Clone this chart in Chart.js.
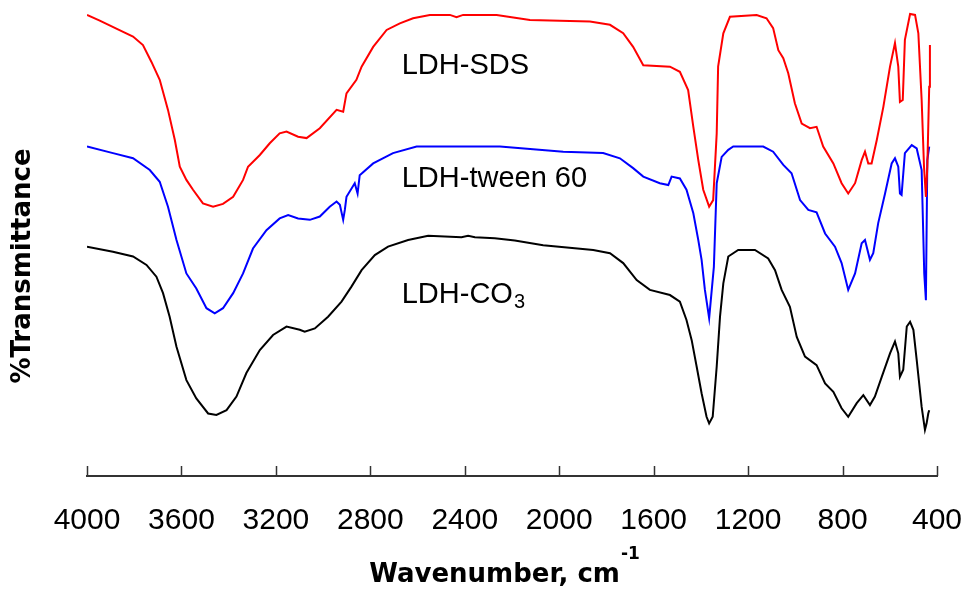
<!DOCTYPE html>
<html>
<head>
<meta charset="utf-8">
<title>FTIR spectra</title>
<script src="https://cdn.jsdelivr.net/npm/chart.js@4.4.1/dist/chart.umd.min.js"></script>
<style>
  html, body { margin: 0; padding: 0; background: #fff; }
  #wrap { width: 965px; height: 592px; position: relative; }
</style>
</head>
<body>
<div id="wrap"><canvas id="myChart" width="965" height="592"></canvas></div>
<script>
'use strict';

// x axis tick values (cm-1)
const tickValues = [4000, 3600, 3200, 2800, 2400, 2000, 1600, 1200, 800, 400];

// series names
const seriesNames = ['LDH-SDS', 'LDH-tween 60', 'LDH-CO3'];

// LDH-SDS (red) - wavenumber / transmittance (offset, arbitrary)
const sdsWave = [4000, 3946, 3847, 3805, 3763, 3727, 3692, 3657, 3628, 3607, 3579, 3551, 3509, 3466, 3424, 3381, 3339, 3318, 3268, 3226, 3184, 3155, 3106, 3070, 3014, 2943, 2915, 2901, 2859, 2837, 2788, 2731, 2675, 2619, 2548, 2463, 2435, 2407, 2265, 2124, 1870, 1785, 1729, 1687, 1644, 1531, 1489, 1454, 1432, 1411, 1390, 1365, 1348, 1333, 1327, 1305, 1277, 1164, 1122, 1094, 1072, 1051, 1030, 1002, 973, 938, 910, 882, 839, 804, 776, 747, 719, 705, 691, 677, 655, 627, 599, 578, 564, 557, 545, 536, 514, 493, 479, 465, 455, 447, 441, 433, 430];
const sdsT = [98.1, 96.9, 94.5, 93.5, 91.7, 88.1, 84.3, 77.9, 71.5, 65.8, 63.0, 60.9, 58.0, 57.3, 57.9, 59.4, 63.0, 65.8, 68.3, 70.8, 72.9, 73.3, 72.2, 71.9, 74.0, 77.9, 77.5, 81.4, 84.3, 87.1, 91.3, 94.9, 96.3, 97.4, 98.1, 98.1, 97.6, 98.1, 98.1, 97.0, 96.7, 96.0, 94.2, 91.3, 87.4, 87.1, 86.0, 82.1, 74.3, 67.2, 60.9, 57.3, 58.7, 72.9, 87.1, 94.2, 97.7, 98.1, 97.4, 95.3, 90.6, 88.9, 85.7, 79.3, 75.0, 74.0, 74.3, 70.1, 66.5, 62.3, 60.1, 62.3, 67.2, 69.0, 66.5, 66.5, 71.5, 78.6, 87.1, 92.1, 87.1, 79.6, 80.0, 92.8, 98.3, 98.1, 94.2, 80.0, 65.8, 59.4, 65.8, 82.8, 91.7];

// LDH-tween 60 (blue)
const tweenWave = [4000, 3890, 3805, 3734, 3692, 3657, 3621, 3579, 3537, 3494, 3459, 3424, 3381, 3339, 3297, 3240, 3184, 3148, 3106, 3056, 3014, 2972, 2943, 2929, 2915, 2908, 2901, 2866, 2854, 2845, 2788, 2704, 2604, 2251, 1983, 1814, 1743, 1687, 1644, 1574, 1538, 1524, 1489, 1461, 1432, 1411, 1397, 1383, 1365, 1345, 1333, 1312, 1284, 1263, 1136, 1094, 1051, 1016, 980, 945, 910, 874, 832, 804, 776, 747, 719, 705, 684, 670, 649, 620, 592, 578, 564, 557, 550, 536, 507, 486, 465, 454, 447, 441, 433];
const tweenT = [70.1, 68.7, 67.6, 65.1, 62.6, 57.3, 50.2, 43.1, 39.9, 35.7, 34.6, 35.7, 38.9, 43.1, 48.4, 52.3, 54.8, 55.5, 54.8, 54.5, 55.2, 57.3, 58.4, 57.7, 54.5, 56.6, 59.4, 62.3, 60.1, 64.0, 66.5, 68.7, 70.1, 70.1, 69.0, 68.7, 67.6, 65.5, 63.7, 62.3, 61.9, 63.7, 63.3, 60.9, 55.9, 50.2, 46.0, 39.6, 33.6, 44.5, 62.3, 67.9, 69.4, 70.1, 70.1, 69.0, 66.2, 64.4, 58.7, 56.6, 56.1, 51.6, 48.8, 45.3, 39.6, 43.1, 49.5, 50.2, 46.0, 47.4, 53.8, 60.1, 66.5, 67.6, 65.8, 60.1, 59.8, 68.7, 70.4, 69.7, 65.1, 43.1, 37.4, 67.2, 70.1];

// LDH-CO3 (black)
const co3Wave = [4000, 3890, 3805, 3748, 3706, 3678, 3650, 3621, 3579, 3537, 3487, 3452, 3409, 3367, 3325, 3268, 3212, 3155, 3099, 3078, 3035, 2979, 2922, 2880, 2837, 2781, 2725, 2640, 2555, 2414, 2386, 2357, 2273, 2188, 2068, 1856, 1785, 1729, 1672, 1616, 1531, 1489, 1461, 1439, 1418, 1397, 1376, 1365, 1350, 1333, 1319, 1305, 1284, 1242, 1171, 1115, 1086, 1058, 1023, 994, 959, 910, 874, 839, 804, 776, 740, 712, 684, 663, 634, 599, 578, 564, 557, 543, 528, 514, 500, 486, 465, 451, 444, 437, 433];
const co3T = [48.8, 47.7, 46.7, 44.9, 42.4, 38.9, 33.9, 27.5, 20.4, 16.5, 13.3, 13.0, 14.0, 16.9, 21.9, 26.8, 30.0, 31.8, 31.1, 30.7, 31.4, 33.9, 37.1, 40.3, 43.8, 47.0, 48.8, 50.2, 51.1, 50.8, 51.1, 50.8, 50.6, 50.1, 49.1, 48.1, 47.4, 45.3, 41.7, 39.6, 38.5, 37.1, 33.2, 28.9, 23.3, 17.6, 12.6, 11.2, 12.6, 23.3, 33.9, 41.0, 46.7, 48.1, 48.1, 46.3, 43.8, 39.6, 36.0, 29.6, 25.4, 23.6, 19.7, 17.9, 14.4, 12.6, 15.5, 17.2, 15.1, 16.9, 21.1, 26.1, 28.6, 26.1, 21.1, 22.6, 31.8, 32.8, 31.1, 24.7, 14.7, 9.8, 11.2, 13.3, 14.0];

// where the series names sit (wavenumber, transmittance)
const labelWave = 2667;
const labelT = [87.2, 63.2, 38.6];

const colors = ['#ff0000', '#0000ff', '#000000'];

// helper - pair up the x and y arrays for chart.js
function toPoints(xs, ys) {
  return xs.map((x, i) => ({ x: x, y: ys[i] }));
}

// plugin for the extra bits: inward ticks, axis titles, curve names
const extras = {
  id: 'extras',
  afterDraw(chart) {
    const ctx = chart.ctx;
    const xs = chart.scales.x;
    const ys = chart.scales.y;
    const area = chart.chartArea;

    ctx.save();
    // tick marks point up into the plot
    ctx.strokeStyle = '#333';
    ctx.lineWidth = 1.5;
    tickValues.forEach(v => {
      const px = Math.round(xs.getPixelForValue(v)) + 0.5;
      ctx.beginPath();
      ctx.moveTo(px, area.bottom);
      ctx.lineTo(px, area.bottom - 10);
      ctx.stroke();
    });

    // curve names
    ctx.fillStyle = '#000';
    ctx.textAlign = 'left';
    ctx.textBaseline = 'middle';
    ctx.font = '29px "Liberation Sans", Arial, sans-serif';
    const lx = xs.getPixelForValue(labelWave);
    ctx.fillText(seriesNames[0], lx, ys.getPixelForValue(labelT[0]));
    ctx.fillText(seriesNames[1], lx, ys.getPixelForValue(labelT[1]));
    // LDH-CO3 with a subscript 3
    const coY = ys.getPixelForValue(labelT[2]);
    ctx.fillText('LDH-CO', lx, coY);
    const coW = ctx.measureText('LDH-CO').width;
    ctx.font = '20px "Liberation Sans", Arial, sans-serif';
    ctx.fillText('3', lx + coW + 1, coY + 8);

    // x title: Wavenumber, cm-1
    ctx.font = 'bold 26px "DejaVu Sans", Verdana, sans-serif';
    ctx.textBaseline = 'alphabetic';
    const mainTxt = 'Wavenumber, cm';
    const mainW = ctx.measureText(mainTxt).width;
    ctx.font = 'bold 17px "DejaVu Sans", Verdana, sans-serif';
    const supW = ctx.measureText('-1').width;
    const cx = (area.left + area.right) / 2 - 8;
    const startX = cx - (mainW + supW) / 2;
    ctx.font = 'bold 26px "DejaVu Sans", Verdana, sans-serif';
    ctx.fillText(mainTxt, startX, 582);
    ctx.font = 'bold 17px "DejaVu Sans", Verdana, sans-serif';
    ctx.fillText('-1', startX + mainW + 1, 559);

    // y title
    ctx.translate(23, (area.top + area.bottom) / 2 + 25);
    ctx.rotate(-Math.PI / 2);
    ctx.font = 'bold 26px "DejaVu Sans", Verdana, sans-serif';
    ctx.textAlign = 'center';
    ctx.textBaseline = 'middle';
    ctx.fillText('%Transmittance', 0, 0);
    ctx.restore();
  }
};

const config = {
  type: 'line',
  data: {
    datasets: [
      { label: seriesNames[0], data: toPoints(sdsWave, sdsT), borderColor: colors[0] },
      { label: seriesNames[1], data: toPoints(tweenWave, tweenT), borderColor: colors[1] },
      { label: seriesNames[2], data: toPoints(co3Wave, co3T), borderColor: colors[2] }
    ]
  },
  options: {
    responsive: false,
    animation: false,
    layout: { padding: { left: 87, right: 28, top: 6, bottom: 0 } },
    elements: {
      point: { radius: 0 },
      line: { borderWidth: 2, tension: 0 }
    },
    plugins: {
      legend: { display: false },
      tooltip: { enabled: false }
    },
    scales: {
      x: {
        type: 'linear',
        reverse: true,
        min: 400,
        max: 4000,
        // fixed height, and no extra room for the edge labels
        afterFit: function (scale) {
          scale.height = 116;
          scale.paddingLeft = 0;
          scale.paddingRight = 0;
        },
        afterBuildTicks: function (scale) {
          scale.ticks = tickValues.map(v => ({ value: v }));
        },
        grid: { display: false, drawTicks: false },
        border: { display: true, color: '#333', width: 2 },
        ticks: {
          autoSkip: false,
          maxRotation: 0,
          padding: 27,
          color: '#000',
          font: { family: '"Liberation Sans", Arial, sans-serif', size: 30 },
          callback: function (value) { return String(value); }
        }
      },
      y: {
        display: false,
        min: 0,
        max: 100
      }
    }
  },
  plugins: [extras]
};

const ctx = document.getElementById('myChart').getContext('2d');
const myChart = new Chart(ctx, config);
</script>
</body>
</html>
